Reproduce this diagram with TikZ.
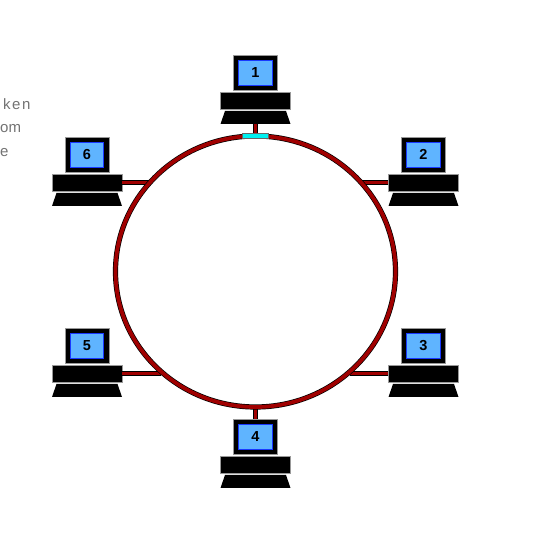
\documentclass[tikz,border=0pt]{standalone}
\usepackage{fontspec}
\setmainfont{Liberation Sans}
\usetikzlibrary{shapes.geometric}
\definecolor{ringred}{HTML}{A00000}
\definecolor{screenblue}{HTML}{5FB4FF}
\definecolor{screenedge}{HTML}{1838FF}
\definecolor{tapcyan}{HTML}{00F0F0}
\tikzset{
  x=1pt,y=-1pt,
  monitorbox/.style={rectangle,draw=screenedge,line width=.8pt,fill=screenblue,minimum width=33.6pt,minimum height=25pt,inner sep=0pt,font=\fontsize{14.5}{14.5}\selectfont\bfseries,text=black},
  monitorcase/.style={rectangle,fill=black,draw=black!40,line width=.4pt,minimum width=44pt,minimum height=35pt,inner sep=0pt},
  bodybox/.style={rectangle,fill=black,draw=black!40,line width=.4pt,minimum width=70pt,minimum height=17pt,inner sep=0pt},
  basefill/.style={fill=black},
  ringline/.style={draw=black,line width=.7pt,double=ringred,double distance=3.8pt},
  tapbox/.style={rectangle,fill=tapcyan,draw=black!60,line width=.3pt,minimum width=26pt,minimum height=4.5pt,inner sep=0pt},
  faint/.style={text=black!55,font=\fontsize{15}{15}\selectfont,inner sep=0pt,anchor=base west}
}
\newcommand{\computerat}[4]{%
  \node[monitorcase] (case#1) at (#2+#3,#4+72.5) {};
  \node[monitorbox] (screen#1) at (#2+#3,#4+72.5) {#1};
  \node[bodybox] (body#1) at (#2+#3,#4+100.5) {};
  \fill[basefill] (#2+#3-30.5,#4+111) -- (#2+#3+30.5,#4+111) -- (#2+#3+35,#4+124) -- (#2+#3-35,#4+124) -- cycle;
  \coordinate (base#1) at (#2+#3,#4+124);
}
\begin{document}
\begin{tikzpicture}
\useasboundingbox (0,0) rectangle (550,534);
\fill[white] (0,0) rectangle (550,534);
\node[faint] (fragA) at (3,110) {\addfontfeature{LetterSpace=10}ken};
\node[faint] (fragB) at (0,133) {om};
\node[faint] (fragC) at (0,157) {e};

\computerat{1}{255.5}{0}{0}
\computerat{2}{255.5}{168}{82}
\computerat{3}{255.5}{168}{273}
\computerat{4}{255.5}{0}{364}
\computerat{5}{255.5}{-168.5}{273}
\computerat{6}{255.5}{-168.5}{82}

\coordinate (ringA) at (255.5,136);
\coordinate (ringB) at (360,182);
\coordinate (ringC) at (350,372.5);
\coordinate (ringD) at (255.5,407);
\coordinate (ringE) at (161,372.5);
\coordinate (ringF) at (150,182);

\draw[ringline] (base1) -- (ringA);
\draw[ringline] (body2.west) -- (ringB |- body2.west);
\draw[ringline] (body3.west) -- (ringC |- body3.west);
\draw[ringline] (case4.north) -- (ringD);
\draw[ringline] (body5.east) -- (ringE |- body5.east);
\draw[ringline] (body6.east) -- (ringF |- body6.east);

\node[ellipse,ringline,minimum width=280pt,minimum height=271pt,inner sep=0pt] (ring) at (255.5,271.5) {};
\node[tapbox] (tap) at (255.5,135.5) {};
\end{tikzpicture}
\end{document}
